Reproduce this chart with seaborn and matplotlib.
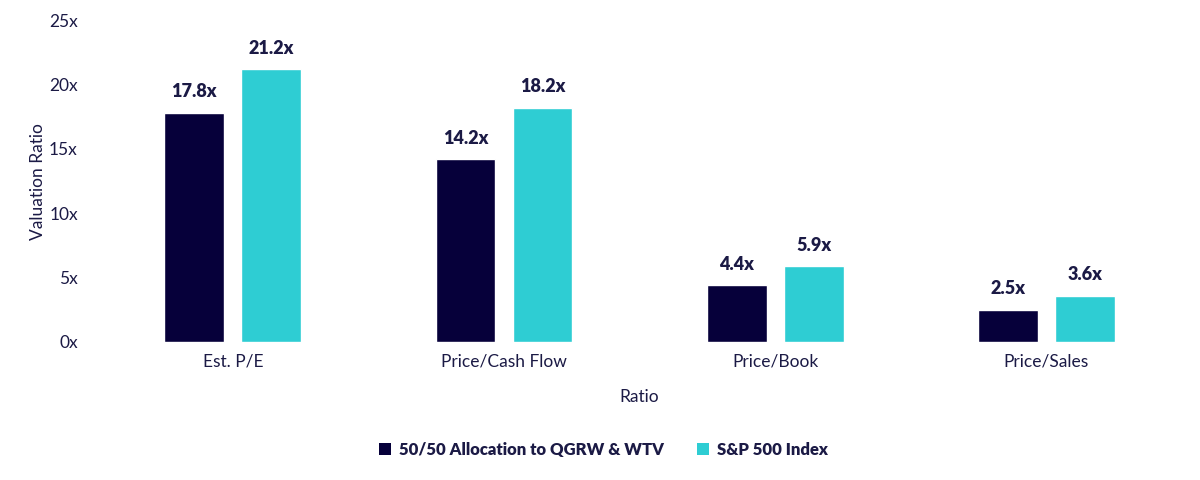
import matplotlib
matplotlib.use("Agg")
import matplotlib.pyplot as plt
import seaborn as sns
import pandas as pd
from matplotlib.patches import Patch

categories = ["Est. P/E", "Price/Cash Flow", "Price/Book", "Price/Sales"]
series_names = ["50/50 Allocation to QGRW & WTV", "S&P 500 Index"]
alloc_values = [17.8, 14.2, 4.4, 2.5]
sp500_values = [21.2, 18.2, 5.9, 3.6]
y_ticks = [0, 5, 10, 15, 20, 25]
y_tick_labels = ["0x", "5x", "10x", "15x", "20x", "25x"]

colors = ["#06003a", "#2ecdd3"]
text_color = "#1b1a45"

df = pd.DataFrame({
    "Ratio": categories * 2,
    "Value": alloc_values + sp500_values,
    "Series": [series_names[0]] * len(categories) + [series_names[1]] * len(categories),
})

sns.set_theme(style="white")
plt.rcParams["font.family"] = ["Lato", "DejaVu Sans"]

fig = plt.figure(figsize=(12, 4.8), dpi=100)
ax = fig.add_axes([0.081, 0.2875, 0.904, 0.6705])

sns.barplot(data=df, x="Ratio", y="Value", hue="Series", order=categories,
            hue_order=series_names, palette=colors, width=0.568, gap=0.225,
            saturation=1, ax=ax, legend=False, errorbar=None)

for cont in ax.containers:
    ax.bar_label(cont, labels=[f"{v.get_height():.1f}x" for v in cont],
                 padding=9, fontsize=13, fontweight="heavy", color=text_color)

ax.set_ylim(0, 25)
ax.set_xlim(-0.5, 3.5)
ax.set_yticks(y_ticks)
ax.set_yticklabels(y_tick_labels)
ax.tick_params(axis="both", labelsize=12.5, colors=text_color, length=0, pad=8)
ax.tick_params(axis="y", pad=14)
for s in ax.spines.values():
    s.set_visible(False)
ax.set_xlabel("Ratio", fontsize=12.5, color=text_color, labelpad=14)
ax.set_ylabel("Valuation Ratio", fontsize=12.5, color=text_color, labelpad=2)

handles = [Patch(facecolor=c, edgecolor="none") for c in colors]
leg = fig.legend(handles, series_names, loc="center", bbox_to_anchor=(0.503, 0.063),
                 ncol=2, frameon=False, handlelength=0.7, handleheight=0.7,
                 handletextpad=0.5, columnspacing=2.0,
                 prop={"weight": "heavy", "size": 12})
for t in leg.get_texts():
    t.set_color(text_color)

fig.savefig("out.png", dpi=100)
